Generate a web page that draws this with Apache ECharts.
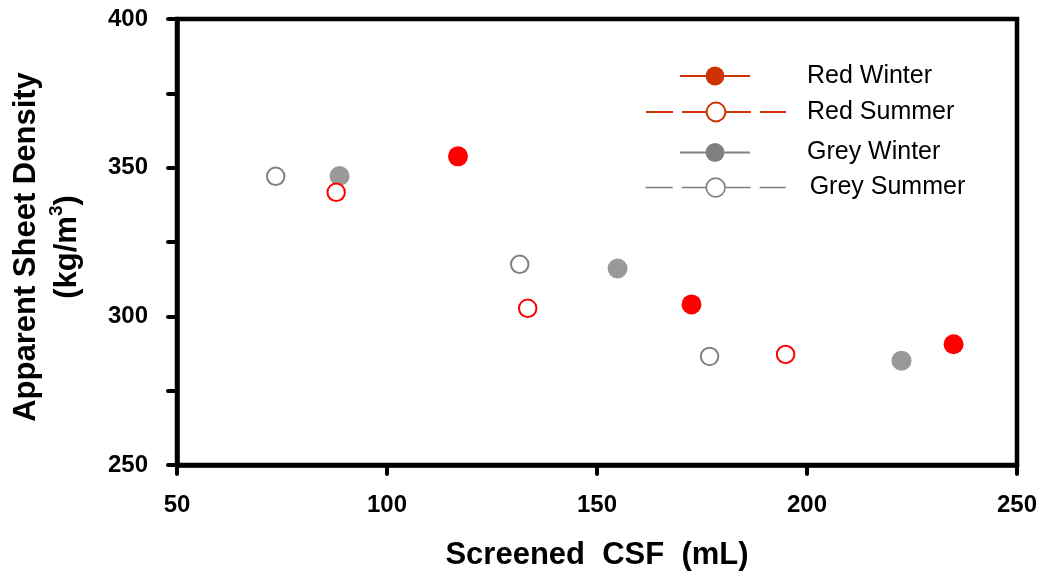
<!DOCTYPE html>
<html>
<head>
<meta charset="utf-8">
<script src="https://cdn.jsdelivr.net/npm/echarts@6/dist/echarts.min.js"></script>
<style>
  html, body { margin: 0; padding: 0; background: #fff; }
  #chart { width: 1042px; height: 573px; }
</style>
</head>
<body>
<div id="chart"></div>
<script>
// Screened CSF (mL) vs apparent sheet density (kg/m3)
const seriesNames = ['Red Winter', 'Red Summer', 'Grey Winter', 'Grey Summer'];
const redWinterCSF = [116.9, 172.5, 234.9];
const redWinterDensity = [353.8, 304.0, 290.6];
const redSummerCSF = [87.9, 133.5, 194.9];
const redSummerDensity = [341.7, 302.7, 287.2];
const greyWinterCSF = [88.7, 154.9, 222.5];
const greyWinterDensity = [347.2, 316.1, 285.1];
const greySummerCSF = [73.5, 131.6, 176.8];
const greySummerDensity = [347.1, 317.5, 286.5];
const xTicks = [50, 100, 150, 200, 250];
const yTicks = [250, 300, 350, 400];

const FONT = "'Liberation Sans', Arial, sans-serif";

function pairs(xs, ys) {
  return xs.map((x, i) => [x, ys[i]]);
}

const chart = echarts.init(document.getElementById('chart'), null, { renderer: 'canvas' });

// One legend block per entry so each row can sit at its own height and width
function legendBlock(name, top, left, width, textPad, itemStyle, lineStyle) {
  return {
    left: left, top: top, orient: 'vertical', padding: 0,
    itemWidth: width, itemHeight: 23.5, selectedMode: false,
    textStyle: { fontFamily: FONT, fontSize: 25, color: '#000', padding: [0, 0, 0, textPad] },
    data: [{ name: name, itemStyle: itemStyle, lineStyle: lineStyle }]
  };
}

const pointSeries = (name, xs, ys, itemStyle, size, z) => ({
  name: name,
  type: 'line',
  data: pairs(xs, ys),
  symbol: 'circle',
  symbolSize: size,
  showSymbol: true,
  lineStyle: { opacity: 0 },
  itemStyle: itemStyle,
  z: z,
  silent: true
});

chart.setOption({
  animation: false,
  backgroundColor: '#fff',
  grid: {
    left: 177, top: 19, width: 840, height: 446,
    outerBoundsMode: 'none', containLabel: false,
    show: true, borderColor: '#000', borderWidth: 4.5, backgroundColor: 'transparent'
  },
  xAxis: {
    type: 'value', min: xTicks[0], max: xTicks[xTicks.length - 1], interval: 50,
    name: 'Screened  CSF  (mL)', nameLocation: 'middle', nameGap: 75,
    nameTextStyle: { fontFamily: FONT, fontSize: 31, fontWeight: 'bold', color: '#000' },
    axisLine: { lineStyle: { color: '#000', width: 4.5, cap: 'round' } },
    axisTick: { show: true, inside: false, length: 9, lineStyle: { color: '#000', width: 4, cap: 'round' } },
    axisLabel: { margin: 28, fontFamily: FONT, fontSize: 24, fontWeight: 'bold', color: '#000' },
    splitLine: { show: false }
  },
  yAxis: {
    type: 'value', min: yTicks[0], max: yTicks[yTicks.length - 1], interval: 25,
    name: 'Apparent Sheet Density\n(kg/m{s|3})', nameLocation: 'middle', nameGap: 89, nameRotate: 90,
    nameTextStyle: {
      fontFamily: FONT, fontSize: 31, fontWeight: 'bold', color: '#000', lineHeight: 41,
      padding: [0, 10, 0, 0],
      rich: { s: { fontFamily: FONT, fontSize: 19, fontWeight: 'bold', color: '#000', verticalAlign: 'top', lineHeight: 41 } }
    },
    axisLine: { lineStyle: { color: '#000', width: 4.5, cap: 'round' } },
    axisTick: { show: true, inside: false, length: 9, lineStyle: { color: '#000', width: 4, cap: 'round' } },
    axisLabel: {
      margin: 29, fontFamily: FONT, fontSize: 24, fontWeight: 'bold', color: '#000',
      formatter: v => (yTicks.indexOf(v) >= 0 ? String(v) : '')
    },
    splitLine: { show: false }
  },
  legend: [
    legendBlock(seriesNames[0], 63.5, 679, 70, 52,
      { color: '#CC3300', borderWidth: 0 },
      { opacity: 1, color: '#CC3300', width: 2, type: 'solid' }),
    legendBlock(seriesNames[1], 99.5, 645, 140, 16,
      { color: '#fff', borderColor: '#CC3300', borderWidth: 2 },
      { opacity: 1, color: '#CC3300', width: 2, type: [27, 9, 69, 9] }),
    legendBlock(seriesNames[2], 140, 679, 70, 52,
      { color: '#808080', borderWidth: 0 },
      { opacity: 1, color: '#808080', width: 2, type: 'solid' }),
    legendBlock(seriesNames[3], 175, 645, 140, 19,
      { color: '#fff', borderColor: '#808080', borderWidth: 1.6 },
      { opacity: 1, color: '#808080', width: 1.3, type: [27, 9, 69, 9] })
  ],
  series: [
    pointSeries(seriesNames[0], redWinterCSF, redWinterDensity,
      { color: '#FF0000', borderWidth: 0 }, 20, 4),
    pointSeries(seriesNames[2], greyWinterCSF, greyWinterDensity,
      { color: '#999999', borderWidth: 0 }, 20, 2),
    pointSeries(seriesNames[1], redSummerCSF, redSummerDensity,
      { color: '#fff', borderColor: '#FF0000', borderWidth: 2 }, 17.5, 3),
    pointSeries(seriesNames[3], greySummerCSF, greySummerDensity,
      { color: '#fff', borderColor: '#808080', borderWidth: 2 }, 17.5, 3)
  ]
});
</script>
</body>
</html>
